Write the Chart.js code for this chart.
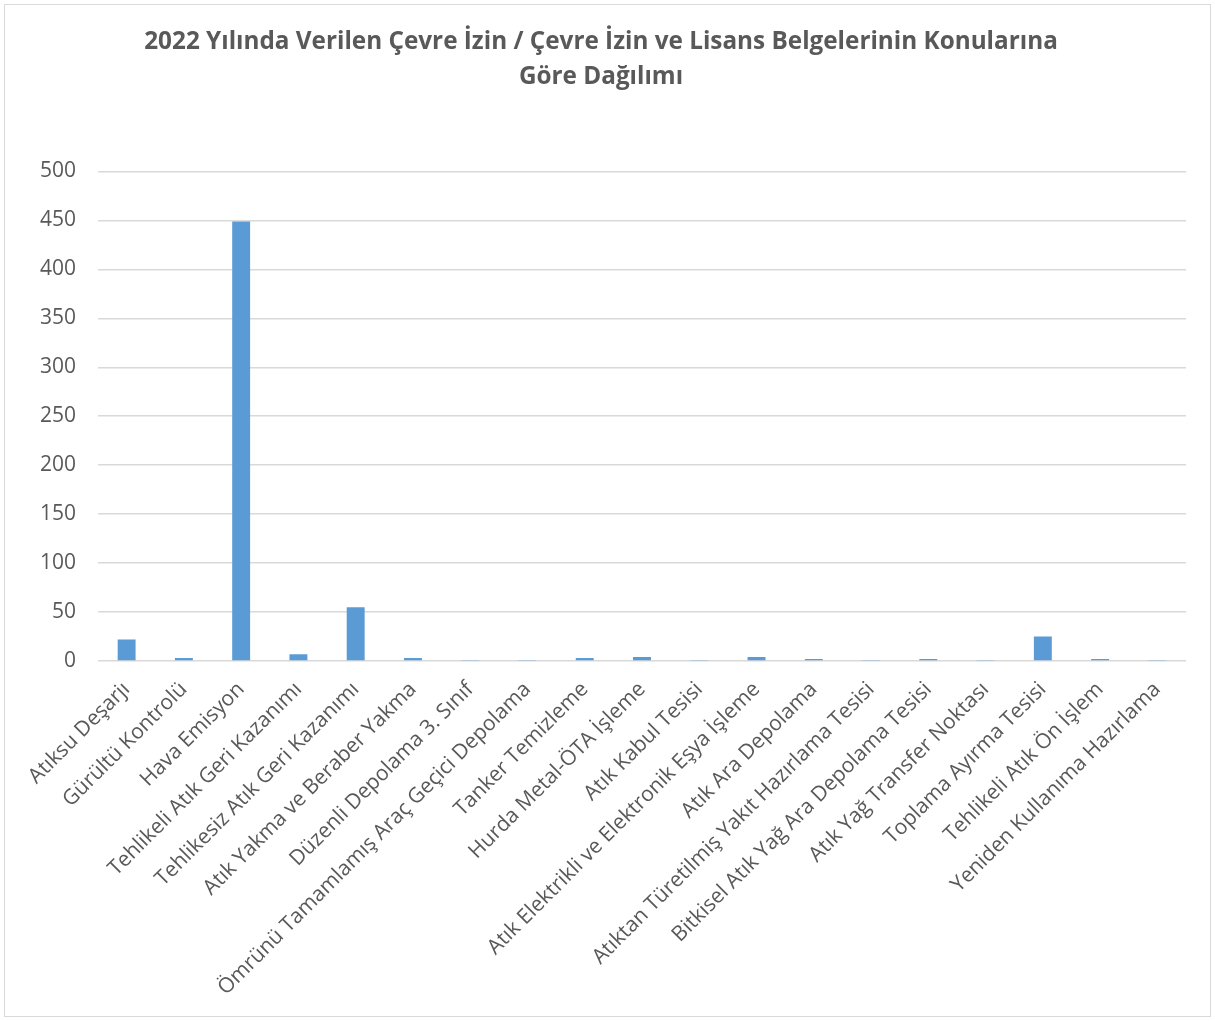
<!DOCTYPE html>
<html>
<head>
<meta charset="utf-8">
<script src="https://cdn.jsdelivr.net/npm/chart.js@4"></script>
<style>
  html, body { margin: 0; padding: 0; background: #ffffff; }
  #wrap { position: relative; width: 1215px; height: 1021px; }
</style>
</head>
<body>
<div id="wrap"><canvas id="chart" width="1215" height="1021"></canvas></div>
<script>
// Konu başlıkları (kategoriler)
const categories = [
  "Atıksu Deşarjı",
  "Gürültü Kontrolü",
  "Hava Emisyon",
  "Tehlikeli Atık Geri Kazanımı",
  "Tehlikesiz Atık Geri Kazanımı",
  "Atık Yakma ve Beraber Yakma",
  "Düzenli Depolama 3. Sınıf",
  "Ömrünü Tamamlamış Araç Geçici Depolama",
  "Tanker Temizleme",
  "Hurda Metal-ÖTA İşleme",
  "Atık Kabul Tesisi",
  "Atık Elektrikli ve Elektronik Eşya İşleme",
  "Atık Ara Depolama",
  "Atıktan Türetilmiş Yakıt Hazırlama Tesisi",
  "Bitkisel Atık Yağ Ara Depolama Tesisi",
  "Atık Yağ Transfer Noktası",
  "Toplama Ayırma Tesisi",
  "Tehlikeli Atık Ön İşlem",
  "Yeniden Kullanıma Hazırlama"
];

// Verilen belge sayıları
const counts = [22, 3, 449, 7, 55, 3, 1, 1, 3, 4, 1, 4, 2, 1, 2, 1, 25, 2, 1];

// Y ekseni ölçeği
const yMin = 0;
const yMax = 500;
const yStep = 50;

const titleLines = [
  "2022 Yılında Verilen Çevre İzin / Çevre İzin ve Lisans Belgelerinin Konularına",
  "Göre Dağılımı"
];

const FONT = "'Open Sans', sans-serif";
const TEXT_COLOR = "#595959";

// Dış çerçeve
const framePlugin = {
  id: "frame",
  beforeDraw(chart) {
    const ctx = chart.ctx;
    ctx.save();
    ctx.fillStyle = "#ffffff";
    ctx.fillRect(0, 0, chart.width, chart.height);
    ctx.strokeStyle = "#d9d9d9";
    ctx.lineWidth = 1;
    ctx.strokeRect(4.5, 4.5, chart.width - 9, chart.height - 9);
    ctx.restore();
  }
};

new Chart(document.getElementById("chart"), {
  type: "bar",
  data: {
    labels: categories,
    datasets: [{
      data: counts,
      backgroundColor: "#5b9bd5",
      borderWidth: 0,
      categoryPercentage: 1.0,
      barPercentage: 0.313
    }]
  },
  options: {
    responsive: false,
    animation: false,
    layout: { padding: { left: 16, right: 29, top: 24, bottom: 10 } },
    plugins: {
      legend: { display: false },
      tooltip: { enabled: false },
      title: {
        display: true,
        text: titleLines,
        color: TEXT_COLOR,
        font: { family: FONT, size: 24.3, weight: "bold", lineHeight: 1.45 },
        padding: { top: 0, bottom: 77 }
      }
    },
    scales: {
      x: {
        grid: { display: false, drawTicks: false },
        border: { display: false },
        ticks: {
          color: TEXT_COLOR,
          font: { family: FONT, size: 21 },
          minRotation: 45,
          maxRotation: 45,
          autoSkip: false,
          padding: 16
        },
        afterFit(scale) { scale.height = 350; }
      },
      y: {
        min: yMin,
        max: yMax,
        grid: { color: "#d9d9d9", lineWidth: 1.5, drawTicks: false },
        border: { display: false },
        ticks: {
          stepSize: yStep,
          color: TEXT_COLOR,
          font: { family: FONT, size: 21 },
          padding: 22
        },
        afterFit(scale) { scale.width = 82; }
      }
    }
  },
  plugins: [framePlugin]
});
</script>
</body>
</html>
